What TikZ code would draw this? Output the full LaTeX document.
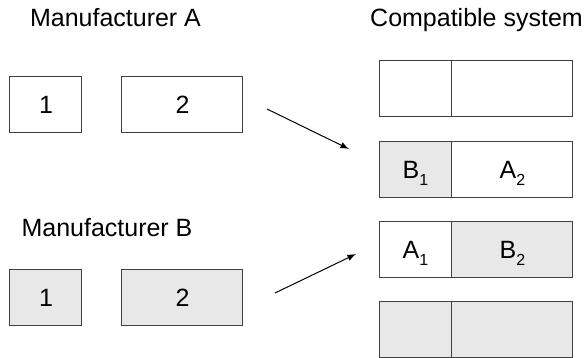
\documentclass[tikz,border=0pt]{standalone}
\usepackage{fontspec}
\setmainfont{Liberation Sans}
\usetikzlibrary{arrows}
\definecolor{partgrey}{HTML}{E8E8E8}
\newcommand{\idx}[1]{\smash{\raisebox{-3.6pt}{\fontsize{8}{8}\selectfont #1}}}
\tikzstyle{part} = [rectangle, minimum height=28pt, inner sep=0pt, text centered, draw=black!75, line width=0.5pt, font=\fontsize{12.5}{15}\selectfont]
\tikzstyle{small} = [part, minimum width=36pt]
\tikzstyle{big} = [part, minimum width=60.5pt]
\tikzstyle{title} = [anchor=base, font=\fontsize{12.5}{15}\selectfont]
\tikzstyle{arrow} = [line width=0.5pt,->,>=latex]
\begin{document}
\begin{tikzpicture}[x=0.5pt, y=0.5pt, yscale=-1]
\useasboundingbox (0,0) rectangle (586,358);

\node at (115.5, 27) (titleA) [title] {Manufacturer A};
\node at (107, 237) (titleB) [title] {Manufacturer B};
\node at (476.5, 27) (titleC) [title] {Compatible system};

\node at (46, 105) (a1) [small] {1};
\node at (182.5, 105) (a2) [big] {2};
\node at (46, 297.5) (b1) [small, fill=partgrey] {1};
\node at (182.5, 297.5) (b2) [big, fill=partgrey] {2};

\node at (415.5, 89) (sys1l) [small] {};
\node at (512.5, 89) (sys1r) [big] {};
\node at (415.5, 169.5) (sys2l) [small, fill=partgrey] {B\idx{1}};
\node at (512.5, 169.5) (sys2r) [big] {A\idx{2}};
\node at (415.5, 250) (sys3l) [small] {A\idx{1}};
\node at (512.5, 250) (sys3r) [big, fill=partgrey] {B\idx{2}};
\node at (415.5, 329.5) (sys4l) [small, fill=partgrey] {};
\node at (512.5, 329.5) (sys4r) [big, fill=partgrey] {};

\coordinate (fromA) at (267, 109);
\coordinate (toA) at (349, 149);
\coordinate (fromB) at (275, 293);
\coordinate (toB) at (356, 254);

\draw [arrow] (fromA) -- (toA);
\draw [arrow] (fromB) -- (toB);

\end{tikzpicture}
\end{document}
